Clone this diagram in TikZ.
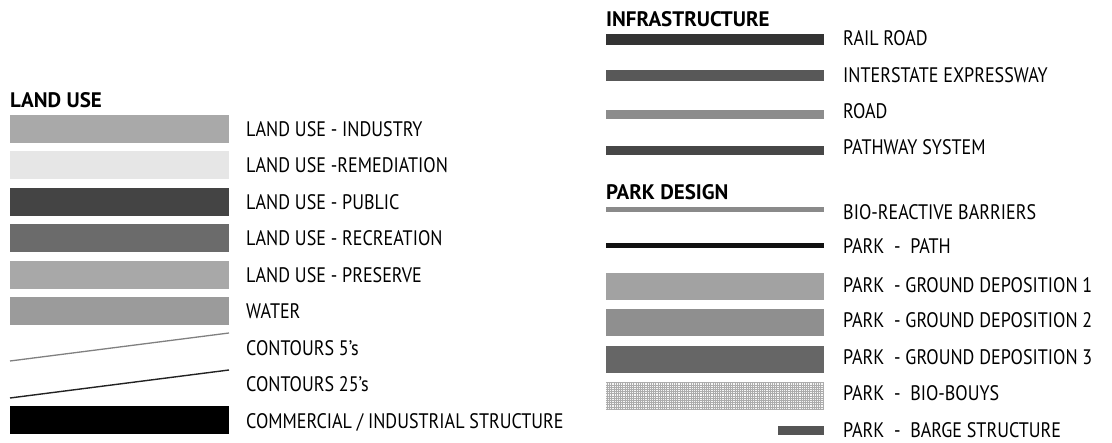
\documentclass[tikz,border=0pt]{standalone}
\usepackage{fontspec}
\setmainfont{PT Sans}[FakeStretch=0.86]
\newfontfamily\headfont{PT Sans}
\usepackage{tikz}

\definecolor{landind}{HTML}{A9A9A9}
\definecolor{landrem}{HTML}{E6E6E6}
\definecolor{landpub}{HTML}{444444}
\definecolor{landrec}{HTML}{6B6B6B}
\definecolor{landpre}{HTML}{A8A8A8}
\definecolor{landwat}{HTML}{9B9B9B}
\definecolor{contfive}{HTML}{808080}
\definecolor{contquart}{HTML}{222222}
\definecolor{infrail}{HTML}{333333}
\definecolor{infint}{HTML}{585858}
\definecolor{infroad}{HTML}{8C8C8C}
\definecolor{infpath}{HTML}{474747}
\definecolor{parkbio}{HTML}{8A8A8A}
\definecolor{parkpath}{HTML}{111111}
\definecolor{parkgdone}{HTML}{A2A2A2}
\definecolor{parkgdtwo}{HTML}{8F8F8F}
\definecolor{parkgdthree}{HTML}{666666}
\definecolor{parkbarge}{HTML}{555555}

\tikzset{
	swatch/.style={fill=#1, draw=none, inner sep=0pt, anchor=north west, minimum width=219pt, minimum height=28pt},
	bar/.style={fill=#1, draw=none, inner sep=0pt, anchor=north west, minimum width=218pt},
	legtext/.style={font=\fontsize{21}{24}\selectfont, anchor=base west, inner sep=0pt},
	legtitle/.style={font=\headfont\fontsize{21}{24}\selectfont\bfseries, anchor=base west, inner sep=0pt}
}

\begin{document}
\begin{tikzpicture}[x=1pt,y=-1pt]
		\useasboundingbox (0,0) rectangle (1112,443);
		
		% land use
		\node[legtitle] (landuse) at (10,108) {LAND USE};
		\node[swatch=landind] (ind) at (10,115) {};
		\node[swatch=landrem] (rem) at (10,151) {};
		\node[swatch=landpub] (pub) at (10,188) {};
		\node[swatch=landrec] (rec) at (10,224) {};
		\node[swatch=landpre] (pre) at (10,261) {};
		\node[swatch=landwat] (wat) at (10,297) {};
		\coordinate (fivea) at (10,361);
		\coordinate (fiveb) at (229,333);
		\coordinate (quarta) at (10,398);
		\coordinate (quartb) at (229,370);
		\draw[contfive, line width=1.3pt] (fivea) -- (fiveb);
		\draw[contquart, line width=1.4pt] (quarta) -- (quartb);
		\node[swatch=black] (com) at (10,406) {};
		
		\foreach \txt [count=\i from 0] in {LAND USE - INDUSTRY,LAND USE -REMEDIATION,LAND USE - PUBLIC,LAND USE - RECREATION,LAND USE - PRESERVE,WATER,CONTOURS 5’s,CONTOURS 25’s,COMMERCIAL / INDUSTRIAL STRUCTURE}
		{
			\node[legtext] (land\i) at (246,{136.5+36.5*\i}) {\txt};
		}
		
		% infrastructure
		\node[legtitle] (infra) at (606,27) {INFRASTRUCTURE};
		\node[bar=infrail, minimum height=11pt] (rail) at (606,34) {};
		\node[bar=infint, minimum height=11pt] (inter) at (606,70) {};
		\node[bar=infroad, minimum height=9pt] (road) at (606,110) {};
		\node[bar=infpath, minimum height=9pt] (pathsys) at (606,146) {};
		\node[legtext] (railtxt) at (843,46) {RAIL ROAD};
		\node[legtext] (intertxt) at (843,83) {INTERSTATE EXPRESSWAY};
		\node[legtext] (roadtxt) at (843,119) {ROAD};
		\node[legtext] (pathsystxt) at (843,155) {PATHWAY SYSTEM};
		
		% park design
		\node[legtitle] (park) at (606,200) {PARK DESIGN};
		\node[bar=parkbio, minimum height=5pt] (bio) at (606,207) {};
		\node[bar=parkpath, minimum height=4.5pt] (ppath) at (606,243) {};
		\node[bar=parkgdone, minimum height=27pt] (gdone) at (606,273) {};
		\node[bar=parkgdtwo, minimum height=27pt] (gdtwo) at (606,309) {};
		\node[bar=parkgdthree, minimum height=27pt] (gdthree) at (606,346) {};
		\node[bar=gray!8, minimum height=28pt] (bouys) at (606,382) {};
		\begin{scope}
			\clip (bouys.north west) rectangle (bouys.south east);
			\draw[step=2.2pt, gray!65, line width=0.6pt] (606,382) grid (824,410);
		\end{scope}
		\node[fill=parkbarge, inner sep=0pt, anchor=north east, minimum width=46pt, minimum height=9pt] (barge) at (824,426) {};
		\node[legtext] (biotxt) at (843,220) {BIO-REACTIVE BARRIERS};
		\node[legtext] (ppathtxt) at (843,254) {PARK \ - \ PATH};
		\node[legtext] (gdonetxt) at (843,293) {PARK \ - GROUND DEPOSITION 1};
		\node[legtext] (gdtwotxt) at (843,328) {PARK \ - GROUND DEPOSITION 2};
		\node[legtext] (gdthreetxt) at (843,365) {PARK \ - GROUND DEPOSITION 3};
		\node[legtext] (bouystxt) at (843,401) {PARK \ - \ BIO-BOUYS};
		\node[legtext] (bargetxt) at (843,438) {PARK \ - \ BARGE STRUCTURE};
\end{tikzpicture}
\end{document}
